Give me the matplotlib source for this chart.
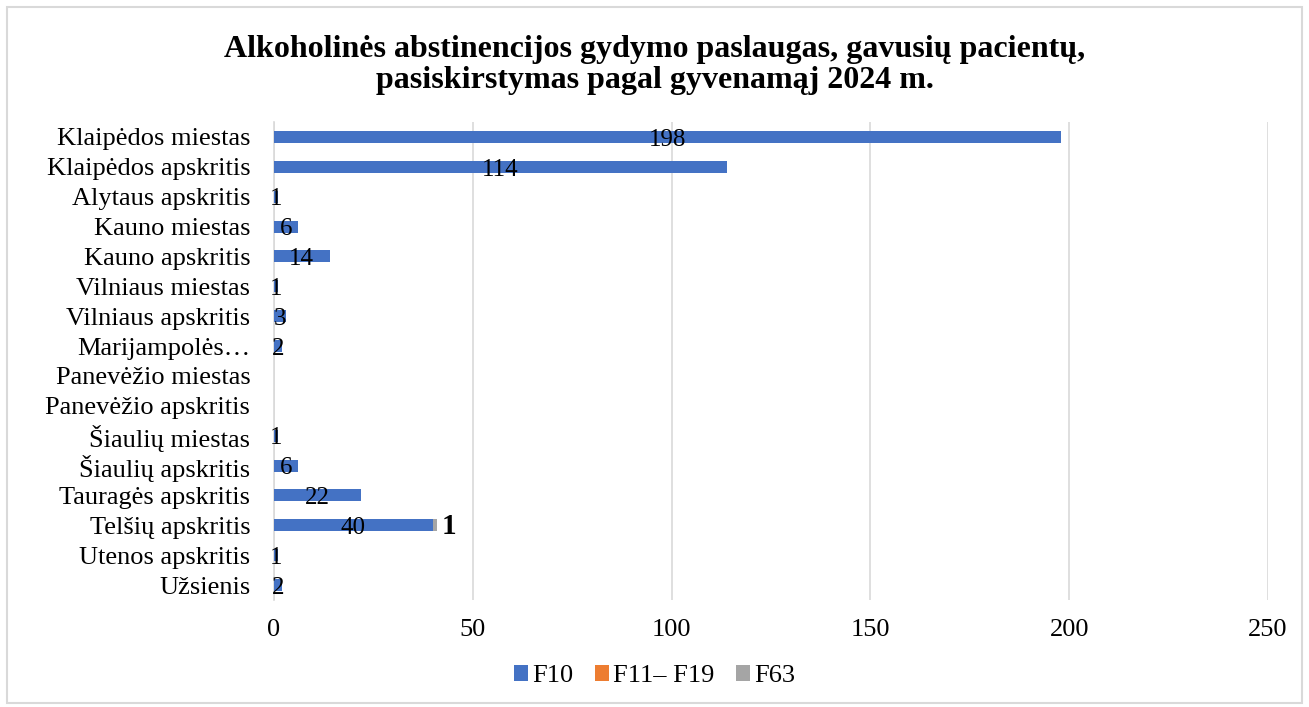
import matplotlib.pyplot as plt
from matplotlib.patches import Rectangle

plt.rcParams['font.family'] = ['Liberation Serif', 'DejaVu Serif']

############## Data ##############

regions = ['Klaipėdos miestas', 'Klaipėdos apskritis', 'Alytaus apskritis',
           'Kauno miestas', 'Kauno apskritis', 'Vilniaus miestas',
           'Vilniaus apskritis', 'Marijampolės…', 'Panevėžio miestas',
           'Panevėžio apskritis', 'Šiaulių miestas', 'Šiaulių apskritis',
           'Tauragės apskritis', 'Telšių apskritis', 'Utenos apskritis',
           'Užsienis']
f10 = [198, 114, 1, 6, 14, 1, 3, 2, 0, 0, 1, 6, 22, 40, 1, 2]
f11_f19 = [0] * 16
f63 = [0, 0, 0, 0, 0, 0, 0, 0, 0, 0, 0, 0, 0, 1, 0, 0]

series_names = ['F10', 'F11– F19', 'F63']
colors = ['#4472C4', '#ED7D31', '#A5A5A5']

############## Plot ##############

fig = plt.figure(figsize=(13.09, 7.07), dpi=100)
ax = fig.add_axes([0.2093, 0.1513, 0.7594, 0.6761])

y = list(range(len(regions)))
left = [0] * len(regions)
for vals, name, c in zip([f10, f11_f19, f63], series_names, colors):
    ax.barh(y, vals, left=left, height=0.4, color=c, label=name, zorder=3)
    left = [l + v for l, v in zip(left, vals)]

# value labels (F10 centred in the bar, F63 after the bar end)
for i, v in enumerate(f10):
    if v:
        ax.annotate(str(v), (v / 2, i), xytext=(0, -2), textcoords='offset points',
                    ha='center', va='center', fontsize=18, zorder=4)
for i, v in enumerate(f63):
    if v:
        ax.annotate(str(v), (left[i], i), xytext=(3, -1), textcoords='offset points',
                    ha='left', va='center', fontsize=21, fontweight='bold', zorder=4)

ax.set_ylim(len(regions) - 0.5, -0.5)
ax.set_xlim(0, 250)
ax.set_xticks([0, 50, 100, 150, 200, 250])
ax.set_yticks(y)
ax.set_yticklabels(regions)
ax.tick_params(axis='both', length=0, labelsize=19)
ax.tick_params(axis='y', pad=17)
ax.tick_params(axis='x', pad=14)

ax.grid(axis='x', color='#D9D9D9', linewidth=1.2, zorder=0)
for s in ['top', 'right', 'bottom']:
    ax.spines[s].set_visible(False)
ax.spines['left'].set_color('#D9D9D9')
ax.spines['left'].set_linewidth(1.2)

fig.text(0.5, 0.908, 'Alkoholinės abstinencijos gydymo paslaugas, gavusių pacientų,\n'
         'pasiskirstymas pagal gyvenamąj 2024 m.',
         ha='center', va='center', fontsize=23, fontweight='bold',
         linespacing=1.05)

fig.legend(loc='center', bbox_to_anchor=(0.5, 0.044), ncol=3, frameon=False,
           fontsize=19, handlelength=0.55, handleheight=0.55,
           handletextpad=0.15, columnspacing=0.8)

fig.patches.append(Rectangle((0.005, 0.005), 0.99, 0.985, transform=fig.transFigure,
                             fill=False, edgecolor='#D9D9D9', linewidth=1.5))

plt.savefig('out.png', dpi=100)
